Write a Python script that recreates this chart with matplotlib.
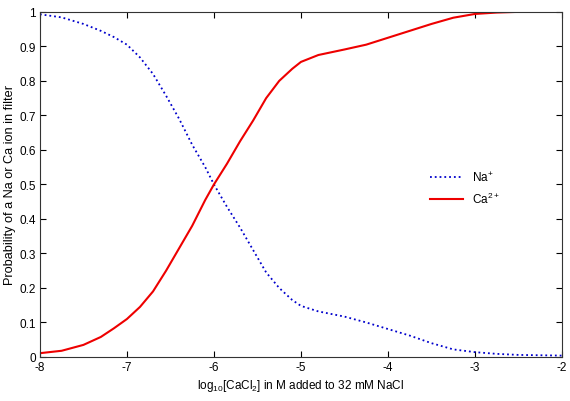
import numpy as np
import matplotlib
matplotlib.use("Agg")
import matplotlib.pyplot as plt

plt.rcParams['font.family'] = ['Liberation Sans', 'DejaVu Sans']
plt.rcParams['mathtext.default'] = 'regular'
plt.rcParams['axes.unicode_minus'] = False

# log10 [CaCl2] sample points
log_ca = [-8, -7.75, -7.5, -7.3, -7.15, -7, -6.85, -6.7, -6.55, -6.4, -6.25, -6.1,
          -6, -5.85, -5.7, -5.55, -5.4, -5.25, -5.1, -5, -4.8, -4.5, -4.25, -4,
          -3.75, -3.5, -3.25, -3, -2.75, -2.5, -2.25, -2]
na_prob = [0.993, 0.984, 0.965, 0.945, 0.927, 0.905, 0.868, 0.82, 0.757, 0.69, 0.615, 0.55,
           0.50, 0.435, 0.375, 0.31, 0.245, 0.20, 0.165, 0.148, 0.132, 0.117, 0.10, 0.081,
           0.062, 0.04, 0.022, 0.014, 0.009, 0.006, 0.005, 0.004]
ca_prob = [0.011, 0.018, 0.035, 0.058, 0.083, 0.11, 0.145, 0.19, 0.25, 0.315, 0.38, 0.455,
           0.50, 0.56, 0.625, 0.685, 0.75, 0.80, 0.835, 0.855, 0.875, 0.891, 0.905, 0.925,
           0.945, 0.965, 0.983, 0.994, 0.998, 1.0, 1.0, 1.0]

fig = plt.figure(figsize=(5.7, 4.02), dpi=100)
ax = fig.add_axes([0.070, 0.1095, 0.916, 0.8585])

ax.plot(log_ca, na_prob, color='#0000cc', linestyle=':', linewidth=1.3, label='Na$^{+}$')
ax.plot(log_ca, ca_prob, color='#ee0000', linestyle='-', linewidth=1.5, label='Ca$^{2+}$')

ax.set_xlim(-8, -2)
ax.set_ylim(0, 1)
ax.set_xticks(np.arange(-8, -1, 1))
ax.set_yticks(np.arange(0, 1.01, 0.1))
ax.set_yticklabels(['0', '0.1', '0.2', '0.3', '0.4', '0.5', '0.6', '0.7', '0.8', '0.9', '1'])
ax.tick_params(direction='in', labelsize=8.5, length=4, top=True, right=True, pad=3)
for sp in ax.spines.values():
    sp.set_color('#333333')

ax.set_xlabel('log$_{10}$[CaCl$_{2}$] in M added to 32 mM NaCl', fontsize=8.5, labelpad=3)
ax.set_ylabel('Probability of a Na or Ca ion in filter', fontsize=9.2, labelpad=2)

ax.legend(loc='center left', bbox_to_anchor=(0.726, 0.49), frameon=False, fontsize=8.5,
          handlelength=2.8, labelspacing=0.6)

plt.savefig("out.png", dpi=100)
plt.close()
